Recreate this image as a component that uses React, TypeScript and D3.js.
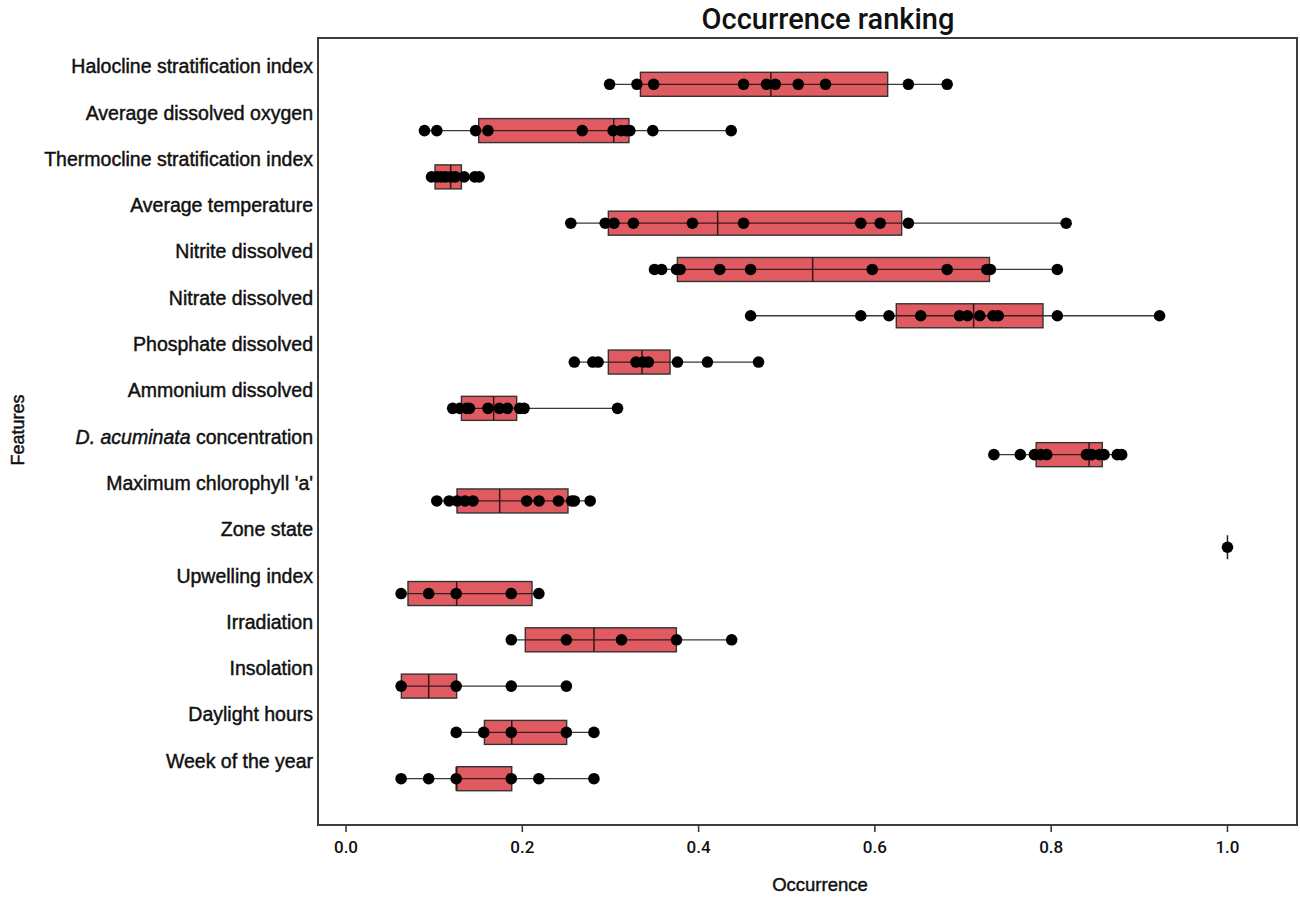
import React from "react";
import * as d3 from "d3";

const features = [
  "Halocline stratification index",
  "Average dissolved oxygen",
  "Thermocline stratification index",
  "Average temperature",
  "Nitrite dissolved",
  "Nitrate dissolved",
  "Phosphate dissolved",
  "Ammonium dissolved",
  "D. acuminata concentration",
  "Maximum chlorophyll 'a'",
  "Zone state",
  "Upwelling index",
  "Irradiation",
  "Insolation",
  "Daylight hours",
  "Week of the year",
];

const points: number[][] = [
  [0.299, 0.330, 0.349, 0.451, 0.477, 0.487, 0.513, 0.544, 0.638, 0.682],
  [0.089, 0.103, 0.147, 0.161, 0.268, 0.303, 0.312, 0.318, 0.322, 0.348, 0.437],
  [0.097, 0.103, 0.108, 0.113, 0.119, 0.124, 0.134, 0.146, 0.151],
  [0.255, 0.294, 0.304, 0.326, 0.393, 0.451, 0.584, 0.606, 0.638, 0.817],
  [0.350, 0.358, 0.375, 0.379, 0.424, 0.459, 0.597, 0.682, 0.727, 0.731, 0.807],
  [0.459, 0.584, 0.616, 0.652, 0.696, 0.705, 0.719, 0.734, 0.740, 0.807, 0.923],
  [0.259, 0.280, 0.286, 0.329, 0.337, 0.343, 0.376, 0.410, 0.468],
  [0.121, 0.129, 0.137, 0.140, 0.161, 0.174, 0.183, 0.197, 0.202, 0.308],
  [0.735, 0.765, 0.781, 0.788, 0.795, 0.840, 0.846, 0.855, 0.860, 0.875, 0.880],
  [0.103, 0.117, 0.126, 0.135, 0.144, 0.205, 0.219, 0.241, 0.256, 0.259, 0.277],
  [1.0],
  [0.0625, 0.09375, 0.125, 0.1875, 0.21875],
  [0.1875, 0.25, 0.3125, 0.375, 0.4375],
  [0.0625, 0.125, 0.1875, 0.25],
  [0.125, 0.15625, 0.1875, 0.25, 0.28125],
  [0.0625, 0.09375, 0.125, 0.1875, 0.21875, 0.28125],
];

const q1 = [0.334, 0.1505, 0.101, 0.2976, 0.3759, 0.6243, 0.2976, 0.1309, 0.783, 0.1259, 1.0, 0.0703, 0.2034, 0.0628, 0.157, 0.1259];
const median = [0.482, 0.3037, 0.1187, 0.4216, 0.5294, 0.712, 0.3358, 0.1675, 0.843, 0.1743, 1.0, 0.1255, 0.2813, 0.0938, 0.188, 0.125];
const q3 = [0.6145, 0.321, 0.1309, 0.6304, 0.730, 0.7907, 0.3676, 0.1936, 0.858, 0.2518, 1.0, 0.211, 0.3748, 0.1255, 0.2503, 0.188];

const xTicks = [0.0, 0.2, 0.4, 0.6, 0.8, 1.0];

const W = 1300;
const H = 899;
const left = 318;
const right = 1297;
const top = 38;
const bottom = 825;

export default function App() {
  const x = d3.scaleLinear().domain([-0.0318, 1.0789]).range([left, right]);
  const y = d3.scaleLinear().domain([-1, features.length]).range([top, bottom]);
  const boxH = 24;
  const labelFont = "'Liberation Sans', Arial, sans-serif";
  const tickFont = "Roboto, 'Liberation Sans', sans-serif";
  const bold = { stroke: "#111", strokeWidth: 0.45 };

  return (
    <svg
      width={W}
      height={H}
      style={{ position: "absolute", left: 0, top: 0, background: "#fff" }}
    >
      <rect x={0} y={0} width={W} height={H} fill="#fff" />
      {/* title */}
      <text
        x={828}
        y={29}
        textAnchor="middle"
        fontFamily={tickFont}
        fontWeight={500}
        fontSize={29}
        fill="#111"
      >
        Occurrence ranking
      </text>

      {/* boxes */}
      {features.map((f, i) => {
        const cy = y(i);
        const pts = points[i];
        const mn = d3.min(pts) as number;
        const mx = d3.max(pts) as number;
        return (
          <g key={f}>
            <line x1={x(mn)} x2={x(mx)} y1={cy} y2={cy} stroke="#3a3a3a" strokeWidth={1.3} />
            <rect
              x={x(q1[i])}
              y={cy - boxH / 2}
              width={Math.max(0, x(q3[i]) - x(q1[i]))}
              height={boxH}
              fill="#e05b61"
              stroke="#333"
              strokeWidth={1.4}
            />
            <line x1={x(q1[i])} x2={x(q3[i])} y1={cy} y2={cy} stroke="#3a1a1a" strokeWidth={1.3} />
            <line
              x1={x(median[i])}
              x2={x(median[i])}
              y1={cy - boxH / 2}
              y2={cy + boxH / 2}
              stroke="#3a1414"
              strokeWidth={1.5}
            />
            {pts.map((p, j) => (
              <circle key={j} cx={x(p)} cy={cy} r={5.8} fill="#000" />
            ))}
          </g>
        );
      })}

      {/* y labels */}
      {features.map((f, i) => (
        <text
          key={f}
          x={313}
          y={y(i) - 18}
          textAnchor="end"
          dominantBaseline="central"
          fontFamily={labelFont}
          fontSize={19.5}
          fill="#111"
          {...bold}
        >
          {f.startsWith("D. acuminata") ? (
            <>
              <tspan fontStyle="italic">D. acuminata</tspan>
              <tspan> concentration</tspan>
            </>
          ) : (
            f
          )}
        </text>
      ))}

      {/* frame */}
      <rect
        x={left}
        y={top}
        width={right - left}
        height={bottom - top}
        fill="none"
        stroke="#3c3c3c"
        strokeWidth={2}
      />

      {/* x ticks */}
      {xTicks.map((t) => (
        <g key={t}>
          <line x1={x(t)} x2={x(t)} y1={bottom} y2={bottom + 7} stroke="#3c3c3c" strokeWidth={1.6} />
          <text
            x={x(t)}
            y={bottom + 22}
            textAnchor="middle"
            dominantBaseline="central"
            fontFamily={tickFont}
            fontWeight={500}
            fontSize={17}
            fill="#111"
          >
            {d3.format(".1f")(t)}
          </text>
        </g>
      ))}

      <text
        x={820}
        y={884}
        textAnchor="middle"
        dominantBaseline="central"
        fontFamily={labelFont}
        fontSize={18.5}
        fill="#111"
        {...bold}
      >
        Occurrence
      </text>
      <text
        transform="translate(18,430) rotate(-90)"
        textAnchor="middle"
        dominantBaseline="central"
        fontFamily={labelFont}
        fontSize={18}
        fill="#111"
        {...bold}
      >
        Features
      </text>
    </svg>
  );
}
